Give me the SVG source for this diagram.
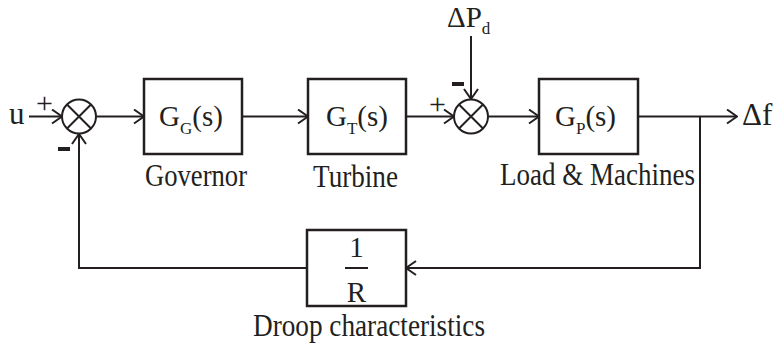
<svg xmlns="http://www.w3.org/2000/svg" width="774" height="346" viewBox="0 0 774 346">
<style>
.ln{fill:none;stroke:#231f20;stroke-width:2}
.bx{fill:#fff;stroke:#231f20;stroke-width:2.5}
.t{font-family:"Liberation Serif","Times New Roman",serif;fill:#231f20;font-size:29px}
.lb{font-size:31px}
.s{font-size:17px}
.pl{font-family:"Liberation Serif","Times New Roman",serif;fill:#231f20;font-size:30px}
</style>
<defs>
<marker id="ar" markerWidth="12" markerHeight="16" refX="11" refY="8" orient="auto" markerUnits="userSpaceOnUse">
<path d="M1,1 L11,8 L1,15" fill="none" stroke="#231f20" stroke-width="2"/>
</marker>
</defs>
<rect width="774" height="346" fill="#fff"/>
<g id="connectors">
<path class="ln" d="M29,116.5 H62" marker-end="url(#ar)"/>
<path class="ln" d="M96,116.5 H144" marker-end="url(#ar)"/>
<path class="ln" d="M242,116.5 H308" marker-end="url(#ar)"/>
<path class="ln" d="M406,116.5 H454" marker-end="url(#ar)"/>
<path class="ln" d="M471,36 V99" marker-end="url(#ar)"/>
<path class="ln" d="M488,116.5 H539" marker-end="url(#ar)"/>
<path class="ln" d="M638,116.5 H737" marker-end="url(#ar)"/>
<path class="ln" d="M700,116.5 V268 H406" marker-end="url(#ar)"/>
<path class="ln" d="M307,268 H79 V134" marker-end="url(#ar)"/>
</g>
<g id="input"><text class="t lb" x="9" y="124">u</text></g>
<g id="sum1">
<circle cx="79" cy="116.5" r="17" class="ln"/>
<path class="ln" d="M67,104.5 L91,128.5 M91,104.5 L67,128.5"/>
<text class="pl" x="36" y="113">+</text>
<rect x="58" y="147" width="12" height="4" fill="#231f20"/>
</g>
<g id="governor">
<rect class="bx" x="144" y="79" width="98" height="75"/>
<text class="t" x="159" y="126">G<tspan class="s" dy="8">G</tspan><tspan dy="-8">(s)</tspan></text>
<text class="t lb" x="145" y="186" textLength="102" lengthAdjust="spacingAndGlyphs">Governor</text>
</g>
<g id="turbine">
<rect class="bx" x="308" y="79" width="98" height="75"/>
<text class="t" x="326" y="126">G<tspan class="s" dy="8">T</tspan><tspan dy="-8">(s)</tspan></text>
<text class="t lb" x="313" y="187" textLength="85" lengthAdjust="spacingAndGlyphs">Turbine</text>
</g>
<g id="sum2">
<circle cx="471" cy="116.5" r="17" class="ln"/>
<path class="ln" d="M459,104.5 L483,128.5 M483,104.5 L459,128.5"/>
<text class="pl" x="429" y="114">+</text>
<rect x="452" y="82" width="12" height="4" fill="#231f20"/>
</g>
<g id="disturbance"><text class="t" x="447" y="27">ΔP<tspan class="s" dy="7">d</tspan></text></g>
<g id="load">
<rect class="bx" x="539" y="79" width="99" height="75"/>
<text class="t" x="555" y="126">G<tspan class="s" dy="8">P</tspan><tspan dy="-8">(s)</tspan></text>
<text class="t lb" x="500" y="185" textLength="195" lengthAdjust="spacingAndGlyphs">Load &amp; Machines</text>
</g>
<g id="output"><text class="t lb" x="742" y="125">Δf</text></g>
<g id="droop">
<rect class="bx" x="307" y="230" width="99" height="76"/>
<text class="t" x="356.5" y="257" text-anchor="middle">1</text>
<line x1="345" y1="268" x2="368" y2="268" stroke="#231f20" stroke-width="2"/>
<text class="t" x="356.5" y="302" text-anchor="middle">R</text>
<text class="t lb" x="253" y="336" textLength="232" lengthAdjust="spacingAndGlyphs">Droop characteristics</text>
</g>
</svg>
